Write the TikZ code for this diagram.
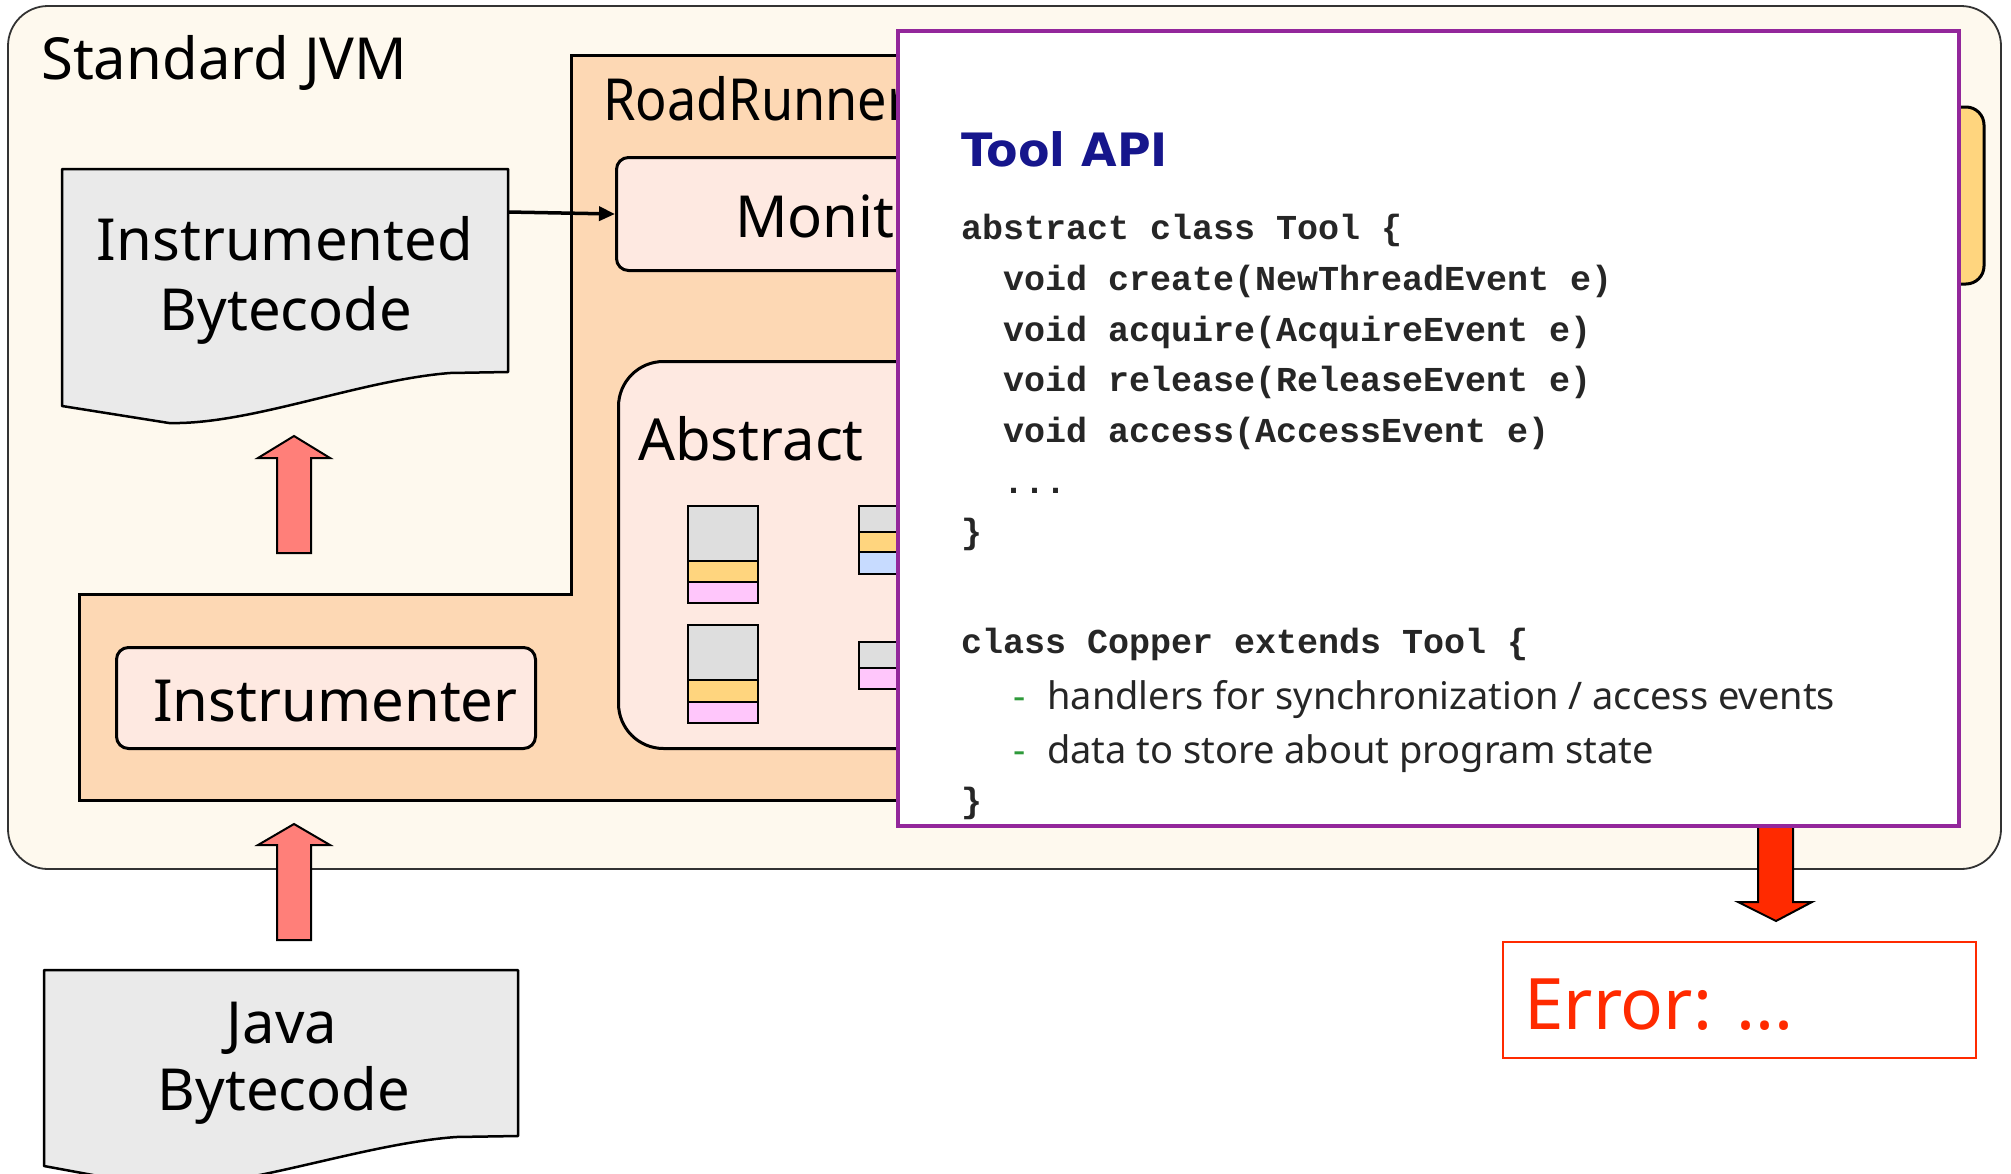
\documentclass[tikz,border=0pt]{standalone}
\usepackage{fontspec}
\setmainfont{Noto Sans}
\setmonofont{Liberation Mono}
\newfontfamily\apifont{DejaVu Sans}
\usetikzlibrary{arrows.meta}

\definecolor{jvmbg}{HTML}{FEF9EE}
\definecolor{rrbg}{HTML}{FDD8B4}
\definecolor{compbg}{HTML}{FEE9E1}
\definecolor{docbg}{HTML}{EAEAEA}
\definecolor{upred}{HTML}{FF7F79}
\definecolor{errred}{HTML}{FF2A00}
\definecolor{apipurple}{HTML}{93279B}
\definecolor{apiblue}{HTML}{16168C}
\definecolor{dashgreen}{HTML}{2E9A3A}
\definecolor{cellgray}{HTML}{DEDEDE}
\definecolor{cellorange}{HTML}{FFD57E}
\definecolor{cellpink}{HTML}{FFC6FB}
\definecolor{cellblue}{HTML}{C7DBFF}
\definecolor{codegray}{HTML}{262626}

\tikzset{
  outline/.style={draw=black, line width=3pt, line join=round},
  compbox/.style={outline, fill=compbg, rounded corners=12pt, inner sep=0pt, anchor=north west},
  biglabel/.style={font=\fontsize{58}{69}\selectfont, inner sep=0pt},
  codeline/.style={font=\ttfamily\bfseries\fontsize{35}{40}\selectfont, text=codegray, inner sep=0pt, anchor=base west},
  noteline/.style={font=\fontsize{38}{44}\selectfont, text=codegray, inner sep=0pt, anchor=base west},
  notedash/.style={font=\bfseries\fontsize{38}{44}\selectfont, text=dashgreen, inner sep=0pt, anchor=base west},
  blockarrow/.style={draw=black, line width=2pt, line join=miter},
  cell/.style={draw=black, line width=2.5pt},
}

\begin{document}
\begin{tikzpicture}[x=1pt, y=-1pt]
\useasboundingbox (0,0) rectangle (2011,1173);
\clip (0,0) rectangle (2011,1173);

% Standard JVM container
\draw[fill=jvmbg, draw=black!80, line width=1.8pt, rounded corners=40pt]
  (8,6) rectangle (2001,869);
\node[biglabel, anchor=base west] (jvmlbl) at (41,79) {Standard JVM};

% Tool box peeking out on the right
\draw[outline, fill=cellorange, rounded corners=18pt] (1700,107) rectangle (1984,284);

% RoadRunner region (L-shaped)
\draw[outline, fill=rrbg, line join=miter]
  (571,55) -- (1900,55) -- (1900,800) -- (79,800) -- (79,594) -- (571,594) -- cycle;
\node[biglabel, anchor=base west] (rrlbl) at (603,120) {\scalebox{0.9}[1]{RoadRunner}};

% Monitor
\node[compbox, minimum width=685pt, minimum height=113pt] (mon) at (615,156) {};
\node[biglabel, anchor=base west] (monlbl) at (735,237) {Monitor};

% Abstract state area
\node[compbox, rounded corners=45pt, minimum width=685pt, minimum height=387pt] (abs) at (617,360) {};
\node[biglabel, anchor=base west] (abslbl) at (638,460) {Abstract};

% shadow-state cells
\draw[cell, fill=cellgray]   (688,506) rectangle (758,561);
\draw[cell, fill=cellorange] (688,561) rectangle (758,582);
\draw[cell, fill=cellpink]   (688,582) rectangle (758,603);
\draw[cell, fill=cellgray]   (688,625) rectangle (758,680);
\draw[cell, fill=cellorange] (688,680) rectangle (758,702);
\draw[cell, fill=cellpink]   (688,702) rectangle (758,723);
\draw[cell, fill=cellgray]   (859,506) rectangle (929,532);
\draw[cell, fill=cellorange] (859,532) rectangle (929,552);
\draw[cell, fill=cellblue]   (859,552) rectangle (929,574);
\draw[cell, fill=cellgray]   (859,642) rectangle (929,668);
\draw[cell, fill=cellpink]   (859,668) rectangle (929,689);

% Instrumenter
\node[compbox, minimum width=419pt, minimum height=101pt] (instr) at (115,646) {};
\node[biglabel, anchor=base west] (instrlbl) at (153,721) {Instrumenter};

% Instrumented bytecode document
\draw[outline, line width=2.5pt, fill=docbg]
  (62,169) -- (508,169) -- (508,372) -- (450,373)
  .. controls (360,380) and (250,425) .. (169,423) -- (62,406) -- cycle;
\coordinate (ibout) at (508,212);
\node[biglabel] (iblbl1) at (285,260) [anchor=base] {Instrumented};
\node[biglabel] (iblbl2) at (286,330) [anchor=base] {Bytecode};

% Java bytecode document
\draw[outline, line width=2.5pt, fill=docbg]
  (44,970) -- (518,970) -- (518,1136) -- (456,1137)
  .. controls (361,1144) and (244,1189) .. (158,1187) -- (44,1166) -- cycle;
\node[biglabel] (jblbl1) at (282,1043) [anchor=base] {Java};
\node[biglabel] (jblbl2) at (284,1110) [anchor=base] {Bytecode};

% calls from instrumented code into the monitor
\draw[line width=3.5pt, -{Triangle[length=16pt, width=14pt]}] (ibout) -- (mon.west);

% instrumentation flow arrows
\draw[blockarrow, fill=upred]
  (277,553) -- (277,458) -- (258,458) -- (294,436) -- (330,458) -- (311,458) -- (311,553) -- cycle;
\draw[blockarrow, fill=upred]
  (277,940) -- (277,845) -- (258,845) -- (294,824) -- (330,845) -- (311,845) -- (311,940) -- cycle;

% error report arrow
\draw[blockarrow, fill=errred]
  (1758,800) -- (1758,902) -- (1738,902) -- (1776,921) -- (1812,902) -- (1793,902) -- (1793,800) -- cycle;

% Tool API panel
\node[draw=apipurple, line width=4pt, fill=white, inner sep=0pt, anchor=north west,
      minimum width=1061pt, minimum height=795pt] (api) at (896,29) {};
\node[font=\apifont\bfseries\fontsize{46}{54}\selectfont, text=apiblue, inner sep=0pt, anchor=base west]
  (apititle) at (961,166) {Tool API};
\node[codeline] (c1) at (961,239) {abstract class Tool \{};
\node[codeline] (c2) at (961,290) {\ \ void create(NewThreadEvent e)};
\node[codeline] (c3) at (961,341) {\ \ void acquire(AcquireEvent e)};
\node[codeline] (c4) at (961,391) {\ \ void release(ReleaseEvent e)};
\node[codeline] (c5) at (961,442) {\ \ void access(AccessEvent e)};
\node[codeline] (c6) at (961,493) {\ \ ...};
\node[codeline] (c7) at (961,543) {\}};
\node[codeline] (c8) at (961,653) {class Copper extends Tool \{};
\node[notedash] (d1) at (1013,709) {-};
\node[noteline] (n1) at (1047,709) {handlers for synchronization / access events};
\node[notedash] (d2) at (1013,763) {-};
\node[noteline] (n2) at (1047,763) {data to store about program state};
\node[codeline] (c9) at (961,812) {\}};

% Error output
\node[draw=errred, line width=2pt, fill=white, inner sep=0pt, anchor=north west,
      minimum width=473pt, minimum height=116pt] (err) at (1502,941) {};
\node[font=\fontsize{71}{82}\selectfont, text=errred, inner sep=0pt, anchor=base west]
  (errlbl) at (1524,1029) {Error: ...};
\end{tikzpicture}
\end{document}
